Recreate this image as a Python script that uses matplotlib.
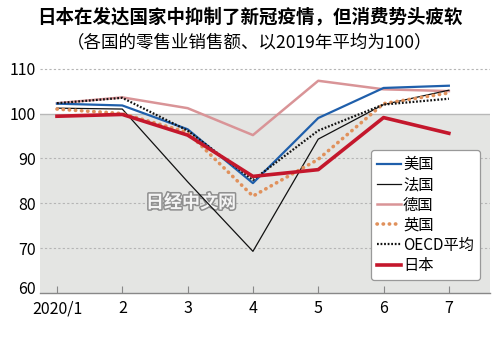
import matplotlib
matplotlib.use("Agg")
import matplotlib.pyplot as plt
import matplotlib.patheffects as pe
import matplotlib.transforms as mtransforms

plt.rcParams["font.family"] = ["Noto Sans CJK SC", "DejaVu Sans"]

months = ["2020/1", "2", "3", "4", "5", "6", "7"]

usa = [102.2, 101.8, 96.5, 84.5, 99.0, 105.7, 106.2]
france = [101.2, 101.0, 84.8, 69.3, 94.3, 102.0, 105.2]
germany = [102.3, 103.6, 101.2, 95.2, 107.3, 105.4, 105.0]
uk = [101.0, 100.0, 95.8, 81.6, 89.8, 102.2, 104.6]
oecd = [102.3, 103.5, 96.2, 85.2, 96.2, 102.0, 103.3]
japan = [99.4, 99.8, 95.2, 86.0, 87.5, 99.1, 95.6]

fig = plt.figure(figsize=(5.0, 3.44), dpi=100)
ax = fig.add_axes([0.08, 0.148, 0.90, 0.672])

x = range(len(months))
ax.set_xlim(-0.26, 6.63)
ax.set_ylim(60, 111.5)

# grey band below the 2019 average
ax.axhspan(60, 100, color="#e4e5e3", zorder=0, lw=0)
ax.axhline(100, color="#b8b8b8", lw=1.0, zorder=1)
for v in [70, 80, 90, 110]:
    ax.axhline(v, color="#b5b5b5", lw=0.8, ls=(0, (2, 2)), zorder=1)

ax.plot(x, usa, color="#1f5fab", lw=1.6, label="美国", zorder=4)
ax.plot(x, france, color="#111111", lw=0.9, label="法国", zorder=4)
ax.plot(x, germany, color="#d99497", lw=1.8, label="德国", zorder=3)
ax.plot(x, uk, color="#e0915c", lw=2.6, ls=(0, (0.1, 1.6)),
        dash_capstyle="round", label="英国", zorder=4)
ax.plot(x, oecd, color="#111111", lw=1.6, ls=(0, (0.8, 0.8)),
        label="OECD平均", zorder=5)
ax.plot(x, japan, color="#c4172c", lw=2.6, label="日本", zorder=6)

ax.set_xticks(list(x))
ax.set_xticklabels(months)
ax.set_yticks([60, 70, 80, 90, 100, 110])
ax.tick_params(axis="x", direction="in", length=5, color="#888888",
               labelsize=11.5, pad=5)
ax.tick_params(axis="y", length=0, labelsize=11.5, pad=3)
for lab in ax.get_xticklabels() + ax.get_yticklabels():
    lab.set_fontweight("medium")
# lift the bottom y label a little off the axis line
lab60 = ax.get_yticklabels()[0]
lab60.set_transform(lab60.get_transform() +
                    mtransforms.ScaledTranslation(0, 4 / 72, fig.dpi_scale_trans))

for s in ["top", "right", "left"]:
    ax.spines[s].set_visible(False)
ax.spines["bottom"].set_color("#888888")
ax.spines["bottom"].set_linewidth(1.0)

leg = ax.legend(loc="lower right", bbox_to_anchor=(0.978, 0.056),
                borderaxespad=0, fontsize=11, handlelength=1.6,
                handletextpad=0.1, labelspacing=0.21, borderpad=0.4,
                frameon=True, fancybox=True, framealpha=1.0)
leg.get_frame().set_edgecolor("#999999")
leg.get_frame().set_linewidth(0.9)
leg.set_zorder(10)

# watermark
ax.text(2.05, 80.2, "日经中文网", fontsize=13, fontweight="bold",
        color="#f4f4f4", ha="center", va="center", zorder=2,
        path_effects=[pe.withStroke(linewidth=2.2, foreground="#8e8e8e")])

fig.text(0.5, 0.952, "日本在发达国家中抑制了新冠疫情，但消费势头疲软",
         ha="center", va="center", fontsize=13.3, fontweight="bold")
fig.text(0.5, 0.878, "（各国的零售业销售额、以2019年平均为100）",
         ha="center", va="center", fontsize=12.6)

fig.savefig("out.png", dpi=100)
